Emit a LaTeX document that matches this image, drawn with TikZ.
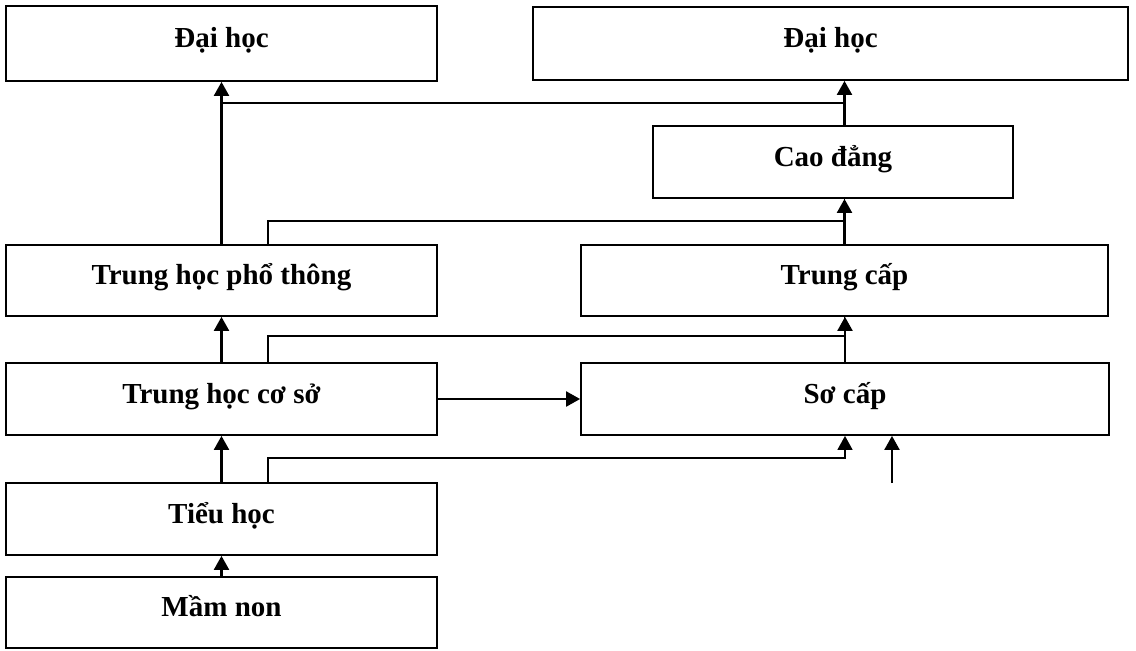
\documentclass[tikz,border=0pt]{standalone}
\usepackage{fontspec}
\setmainfont{Liberation Serif}
\usepackage{tikz}
\usetikzlibrary{arrows.meta,positioning,calc}

\begin{document}
\begin{tikzpicture}[
  x=0.5pt, y=-0.5pt,
  box/.style={draw,line width=0.9pt,inner sep=0pt,text height=9pt,text depth=5pt,
    font=\fontsize{14.5pt}{17pt}\selectfont\bfseries},
  arrow/.style={-{Triangle[length=7pt,width=7.5pt]},line width=1.1pt},
  link/.style={line width=0.8pt}
]
  \useasboundingbox (0,0) rectangle (1136,650);

  % left column
  \node[box, minimum width=215.5pt, minimum height=37.5pt] (dhL)   at (221.5,43.5) {Đại học};
  \node[box, minimum width=215.5pt, minimum height=35.5pt] (thpt)  at (221.5,280.5) {Trung học phổ thông};
  \node[box, minimum width=215.5pt, minimum height=36pt]   (thcs)  at (221.5,399) {Trung học cơ sở};
  \node[box, minimum width=215.5pt, minimum height=36pt]   (th)    at (221.5,519) {Tiểu học};
  \node[box, minimum width=215.5pt, minimum height=35.5pt] (mn)    at (221.5,612.5) {Mầm non};

  % right column
  \node[box, minimum width=297.5pt, minimum height=36.5pt] (dhR)   at (830.5,43.5) {Đại học};
  \node[box, minimum width=180pt,   minimum height=36pt]   (cd)    at (833,162) {Cao đẳng};
  \node[box, minimum width=263.5pt, minimum height=35.5pt] (tc)    at (844.5,280.5) {Trung cấp};
  \node[box, minimum width=264pt,   minimum height=36pt]   (sc)    at (845,399) {Sơ cấp};

  \coordinate (split) at ($(dhL.south)+(0,21)$);
  \coordinate (ext) at (892,483);

  % main ladder
  \draw[arrow] (mn) -- (th);
  \draw[arrow] (th) -- (thcs);
  \draw[arrow] (thcs) -- (thpt);
  \draw[arrow] (thpt) -- (dhL);
  \draw[arrow] (thcs) -- (sc);

  % vocational ladder
  \draw[arrow] (sc.north) -- (sc.north |- tc.south);
  \draw[arrow] (tc.north) -- (tc.north |- cd.south);
  \draw[arrow] (tc.north |- cd.north) -- (tc.north |- dhR.south);

  % side branches
  \draw[arrow, link] ([xshift=23.25pt]th.north) -- ++(0,-24) -| (sc.south);
  \draw[link] ([xshift=23.25pt]thcs.north) -- ++(0,-26) -| (tc.south);
  \draw[link] ([xshift=23.25pt]thpt.north) -- ++(0,-23) -| (tc.north |- cd.south);
  \draw[link] (split) -- (split -| tc.north);
  \draw[arrow] (ext) -- (ext |- sc.south);
\end{tikzpicture}
\end{document}
